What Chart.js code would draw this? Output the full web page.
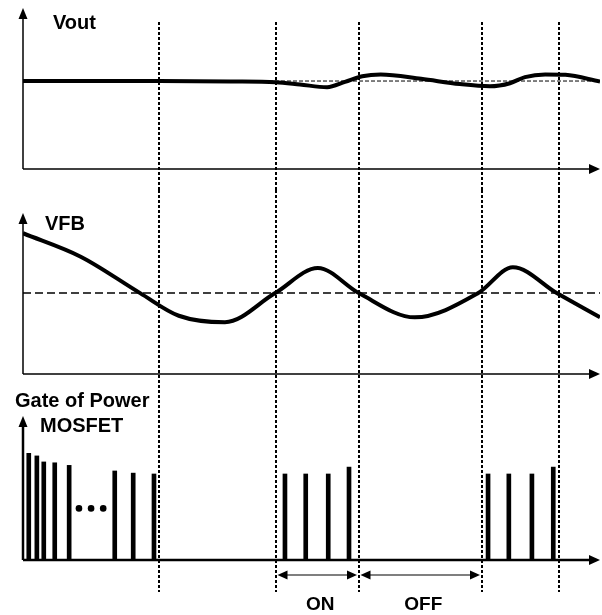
<!DOCTYPE html>
<html>
<head>
<meta charset="utf-8">
<script src="https://cdn.jsdelivr.net/npm/chart.js@4/dist/chart.umd.min.js"></script>
<style>
  body { margin: 0; background: #fff; }
  #wrap { position: relative; width: 602px; height: 615px; }
  #wrap canvas { position: absolute; left: 0; }
</style>
</head>
<body>
<div id="wrap">
  <canvas id="vout" width="602" height="190" style="top:0px"></canvas>
  <canvas id="vfb" width="602" height="195" style="top:190px"></canvas>
  <canvas id="gate" width="602" height="230" style="top:385px"></canvas>
</div>
<script>
// time axis in arbitrary units, 0 .. 10
var voutT = [0, 2.36, 3.6, 4.38, 4.8, 5.27, 5.58, 5.88, 6.2, 6.9, 7.57, 8.09, 8.44, 8.7, 9.05, 9.4, 10];
var voutV = [1.0, 1.0, 0.995, 0.985, 0.96, 0.93, 0.99, 1.055, 1.075, 1.025, 0.965, 0.94, 0.975, 1.045, 1.075, 1.07, 0.995];

var vfbT = [0, 1.0, 2.03, 2.7, 3.5, 4.37, 5.11, 5.82, 6.79, 7.89, 8.49, 9.25, 10];
var vfbV = [1.74, 1.45, 1.0, 0.72, 0.64, 1.0, 1.31, 1.0, 0.7, 1.0, 1.32, 1.0, 0.7];

var pulseT = [0.1, 0.24, 0.36, 0.55, 0.8, 1.59, 1.91, 2.27, 4.54, 4.9, 5.29, 5.65, 8.06, 8.42, 8.82, 9.19];
var pulseH = [1.24, 1.21, 1.14, 1.13, 1.1, 1.035, 1.01, 1.0, 1.0, 1.0, 1.0, 1.08, 1.0, 1.0, 1.0, 1.08];

var dotsT = [0.97, 1.18, 1.39];
var dotsV = [0.6, 0.6, 0.6];

// switching edges (dotted lines)
var edgeT = [2.357, 4.385, 5.823, 7.955, 9.29];

var onOff = [
  { from: 4.385, to: 5.823, text: 'ON' },
  { from: 5.823, to: 7.955, text: 'OFF' }
];

function pts(xs, ys) {
  return xs.map(function (x, i) { return { x: x, y: ys[i] }; });
}

function line(ctx, x1, y1, x2, y2) {
  ctx.beginPath();
  ctx.moveTo(x1, y1);
  ctx.lineTo(x2, y2);
  ctx.stroke();
}

function head(ctx, x, y, dir, len, half) {
  // dir: 'up', 'right', 'left'
  ctx.beginPath();
  ctx.moveTo(x, y);
  if (dir == 'up') { ctx.lineTo(x - half, y + len); ctx.lineTo(x + half, y + len); }
  if (dir == 'right') { ctx.lineTo(x - len, y - half); ctx.lineTo(x - len, y + half); }
  if (dir == 'left') { ctx.lineTo(x + len, y - half); ctx.lineTo(x + len, y + half); }
  ctx.closePath();
  ctx.fill();
}

var diagram = {
  id: 'diagram',
  beforeDatasetsDraw: function (chart, args, o) {
    var ctx = chart.ctx, a = chart.chartArea;
    var xs = chart.scales.x, ys = chart.scales.y;
    ctx.save();
    ctx.strokeStyle = '#000';
    ctx.fillStyle = '#000';

    if (o.ref) {
      ctx.setLineDash(o.ref.dash);
      ctx.lineWidth = o.ref.width;
      var ry = ys.getPixelForValue(o.ref.level);
      line(ctx, a.left, ry, a.right, ry);
    }

    ctx.setLineDash([3, 2]);
    ctx.lineWidth = 2;
    edgeT.forEach(function (t) {
      var px = Math.round(xs.getPixelForValue(t));
      line(ctx, px, o.edgeTop, px, o.edgeBottom);
    });

    ctx.setLineDash([]);
    ctx.lineWidth = o.axisWidth;
    line(ctx, a.left, a.bottom, a.right - 8, a.bottom);
    line(ctx, a.left, a.bottom, a.left, a.top + 8);
    head(ctx, a.right, a.bottom, 'right', 11, 5);
    head(ctx, a.left, a.top, 'up', 11, 4.5);
    ctx.restore();
  },
  afterDraw: function (chart, args, o) {
    var ctx = chart.ctx, a = chart.chartArea, xs = chart.scales.x;
    ctx.save();
    ctx.fillStyle = '#000';
    ctx.strokeStyle = '#000';
    ctx.textBaseline = 'alphabetic';
    ctx.font = 'bold 20px "Liberation Sans", Arial, sans-serif';
    (o.labels || []).forEach(function (l) {
      ctx.fillText(l.text, l.x, l.y);
    });

    if (o.spans) {
      var y = a.bottom + 15;
      ctx.lineWidth = 1.2;
      ctx.font = 'bold 19px "Liberation Sans", Arial, sans-serif';
      ctx.textAlign = 'center';
      onOff.forEach(function (s) {
        var x1 = xs.getPixelForValue(s.from) + 1.5;
        var x2 = xs.getPixelForValue(s.to) - 2;
        line(ctx, x1 + 6, y, x2 - 6, y);
        head(ctx, x1, y, 'left', 10, 4.5);
        head(ctx, x2, y, 'right', 10, 4.5);
        ctx.fillText(s.text, (x1 + x2) / 2 + 3, a.bottom + 50);
      });
    }
    ctx.restore();
  }
};

function baseOptions(pad, ymax, diag) {
  return {
    responsive: false,
    animation: false,
    events: [],
    layout: { padding: pad, autoPadding: false },
    scales: {
      x: { type: 'linear', min: 0, max: 10, offset: false, display: false },
      y: { type: 'linear', min: 0, max: ymax, display: false }
    },
    plugins: { legend: { display: false }, tooltip: { enabled: false }, diagram: diag }
  };
}

var curveStyle = {
  borderColor: '#000',
  borderWidth: 4,
  pointRadius: 0,
  cubicInterpolationMode: 'monotone',
  fill: false
};

new Chart(document.getElementById('vout'), {
  type: 'line',
  data: { datasets: [Object.assign({ data: pts(voutT, voutV) }, curveStyle)] },
  options: baseOptions({ left: 23, right: 2, top: 8, bottom: 21 }, 1.83, {
    ref: { level: 1, dash: [4, 2], width: 1 },
    edgeTop: 22, edgeBottom: 190, axisWidth: 1.5,
    labels: [{ text: 'Vout', x: 53, y: 29 }]
  }),
  plugins: [diagram]
});

new Chart(document.getElementById('vfb'), {
  type: 'line',
  data: { datasets: [Object.assign({ data: pts(vfbT, vfbV) }, curveStyle)] },
  options: baseOptions({ left: 23, right: 2, top: 23, bottom: 11 }, 1.99, {
    ref: { level: 1, dash: [8, 4], width: 1.5 },
    edgeTop: 0, edgeBottom: 195, axisWidth: 1.5,
    labels: [{ text: 'VFB', x: 45, y: 40 }]
  }),
  plugins: [diagram]
});

new Chart(document.getElementById('gate'), {
  type: 'bar',
  data: {
    datasets: [
      {
        type: 'bar',
        data: pts(pulseT, pulseH),
        backgroundColor: '#000',
        barThickness: 4,
        borderWidth: 0
      },
      {
        type: 'scatter',
        data: pts(dotsT, dotsV),
        backgroundColor: '#000',
        borderWidth: 0,
        pointRadius: 3.3
      }
    ]
  },
  options: baseOptions({ left: 23, right: 2, top: 31, bottom: 55 }, 1.674, {
    edgeTop: 0, edgeBottom: 207, axisWidth: 2.5, spans: true,
    labels: [
      { text: 'Gate of Power', x: 15, y: 22 },
      { text: 'MOSFET', x: 40, y: 47 }
    ]
  }),
  plugins: [diagram]
});
</script>
</body>
</html>
